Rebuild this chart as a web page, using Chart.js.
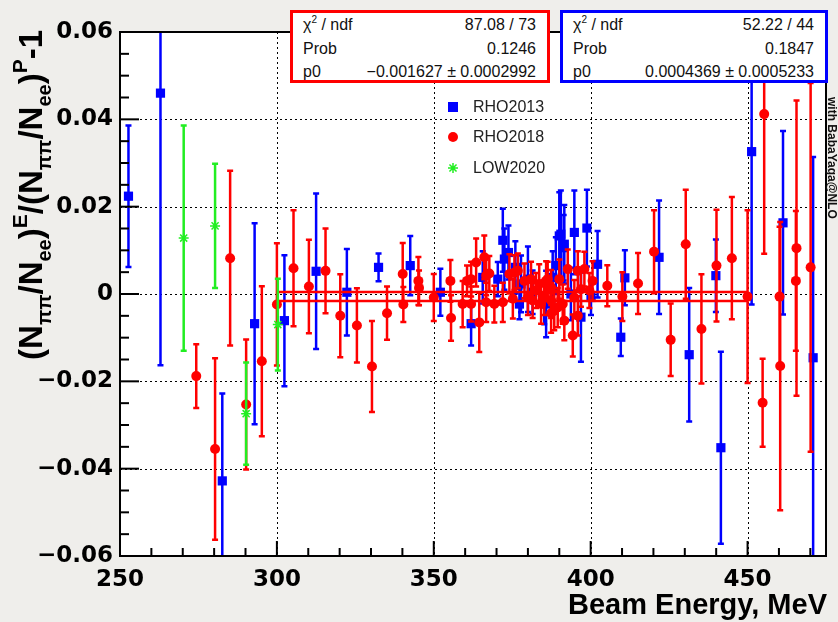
<!DOCTYPE html>
<html><head><meta charset="utf-8">
<script src="https://cdn.jsdelivr.net/npm/chart.js@4.4.1/dist/chart.umd.min.js"></script>
<style>
html,body{margin:0;padding:0;background:#efeeeb;}
#wrap{position:relative;width:838px;height:622px;overflow:hidden;background:#efeeeb;}
#c{position:absolute;left:0;top:0;}
.box{position:absolute;top:10px;height:73px;background:#fff;box-sizing:border-box;border:3px solid;font-family:"Liberation Sans",Arial,sans-serif;font-size:16px;color:#111;}
.row{position:absolute;left:10px;right:11px;height:20px;line-height:20px;white-space:nowrap;}
.row .l{position:absolute;left:0;top:0;}
.row .r{position:absolute;right:0;top:0;}
.row sup{font-size:10px;line-height:0;position:relative;top:-1px;vertical-align:super;}
.leg{position:absolute;left:473px;height:20px;line-height:20px;font-family:"Liberation Sans",Arial,sans-serif;font-size:16px;color:#222;}
#ytitle{position:absolute;left:8px;top:374px;width:344px;height:46px;line-height:46px;text-align:right;transform:rotate(-90deg);transform-origin:0 0;font-family:"Liberation Sans",Arial,sans-serif;font-weight:bold;font-size:33px;color:#000;white-space:nowrap;}
#ytitle .sb{font-size:20px;position:relative;top:9px;}
#ytitle .sp{font-size:21px;position:relative;top:-15px;}
#xtitle{position:absolute;right:11px;top:590px;height:29px;line-height:29px;font-family:"Liberation Sans",Arial,sans-serif;font-weight:bold;font-size:29px;color:#000;white-space:nowrap;}
#side{position:absolute;left:839px;top:97px;width:160px;height:14px;line-height:14px;transform:rotate(90deg);transform-origin:0 0;font-family:"Liberation Sans",Arial,sans-serif;font-weight:bold;font-size:12px;color:#111;white-space:nowrap;}
</style>
</head><body>
<div id="wrap">
<canvas id="c" width="838" height="622"></canvas>
<div id="ytitle">(N<span class="sb">ππ</span>/N<span class="sb">ee</span>)<span class="sp">E</span>/(N<span class="sb">ππ</span>/N<span class="sb">ee</span>)<span class="sp">P</span>-1</div>
<div id="xtitle">Beam Energy, MeV</div>
<div id="side">with BabaYaga@NLO</div>
<div id="box2018" class="box" style="left:290px;width:260px;border-color:#ff0000;"></div>
<div id="box2013" class="box" style="left:560px;width:268px;border-color:#0000ff;"></div>
<div id="legend"></div>
</div>
<script>
// ---------------- data ----------------
const rho2013E = [252.7, 262.9, 282.6, 292.9, 302.4, 312.5, 322.3, 332.4, 342.5, 352.1, 361.9, 365.6, 370.4, 372.0, 372.5, 373.8, 376.0, 377.3, 377.8, 380.0, 381.5, 385.2, 385.8, 387.9, 388.9, 390.0, 390.5, 391.4, 391.6, 393.7, 394.8, 396.9, 398.8, 400.1, 402.2, 409.6, 410.9, 421.8, 431.4, 439.9, 441.5, 451.3, 461.3, 470.9];
const rho2013Y = [0.0224, 0.0460, -0.0428, -0.0068, -0.0061, 0.0052, 0.0004, 0.0061, 0.0065, 0.0004, -0.0068, 0.0038, 0.0034, 0.0123, 0.0080, 0.0095, 0.0061, -0.0023, 0.0023, 0.0034, 0.0004, -0.0019, -0.0023, 0.0038, 0.0065, 0.0133, 0.0137, 0.0106, 0.0114, 0.0000, 0.0141, -0.0053, 0.0151, -0.0008, 0.0068, -0.0099, 0.0037, 0.0084, -0.0139, 0.0042, -0.0352, 0.0326, 0.0163, -0.0146];
const rho2013Err = [0.0162, 0.0623, 0.0200, 0.0230, 0.0150, 0.0178, 0.0099, 0.0032, 0.0068, 0.0054, 0.0050, 0.0060, 0.0039, 0.0072, 0.0070, 0.0062, 0.0060, 0.0035, 0.0065, 0.0075, 0.0050, 0.0050, 0.0076, 0.0060, 0.0065, 0.0100, 0.0100, 0.0075, 0.0090, 0.0060, 0.0096, 0.0102, 0.0088, 0.0040, 0.0076, 0.0043, 0.0063, 0.0130, 0.0153, 0.0083, 0.0220, 0.0350, 0.0210, 0.0460];

const rho2018E = [274.3, 280.3, 285.1, 290.2, 295.2, 300.0, 305.3, 310.2, 315.5, 320.2,
  325.5, 330.3, 335.1, 340.1, 340.3, 345.1, 345.3, 350.0, 355.3, 355.5,
  359.2, 360.6, 361.9, 361.9, 363.5, 364.5, 366.1, 366.7, 366.7, 367.7,
  369.3, 372.0, 374.1, 375.2, 375.7, 376.8, 378.9, 380.0, 381.0, 381.5,
  382.6, 383.6, 384.2, 385.2, 385.8, 386.3, 387.4, 387.4, 387.4, 388.4,
  389.5, 390.0, 391.1, 391.6, 392.7, 394.3, 394.8, 395.9, 395.9, 396.9,
  398.0, 399.6, 400.6, 405.3, 410.1, 415.1, 420.2, 425.5, 430.3, 435.3,
  440.1, 445.0, 450.0, 454.8, 455.3, 460.2, 460.4, 465.4, 465.6, 470.1];
const rho2018Y = [-0.0188, -0.0355, 0.0082, -0.0253, -0.0154, -0.0024, 0.0059, 0.0017, 0.0053, -0.0050,
  -0.0072, -0.0166, -0.0044, 0.0046, -0.0024, 0.0030, 0.0014, -0.0008, 0.0030, -0.0055,
  -0.0023, 0.0030, 0.0034, -0.0023, 0.0072, -0.0065, 0.0084, 0.0042, -0.0019, 0.0047,
  -0.0023, -0.0019, 0.0046, -0.0011, 0.0049, 0.0053, 0.0030, -0.0008, 0.0034, -0.0015,
  0.0008, 0.0023, -0.0023, -0.0008, 0.0030, 0.0034, 0.0015, -0.0015, -0.0044, -0.0038,
  -0.0031, 0.0034, -0.0023, -0.0061, 0.0057, -0.0095, -0.0008, 0.0053, -0.0050, 0.0011,
  0.0057, 0.0008, 0.0030, 0.0019, -0.0006, 0.0024, 0.0097, -0.0105, 0.0114, -0.0080,
  0.0065, 0.0082, -0.0006, -0.0249, 0.0412, -0.0006, -0.0165, 0.0030, 0.0105, 0.0061];
const rho2018Err = [0.0073, 0.0208, 0.0200, 0.0149, 0.0172, 0.0140, 0.0133, 0.0107, 0.0097, 0.0095,
  0.0085, 0.0104, 0.0061, 0.0071, 0.0040, 0.0055, 0.0040, 0.0054, 0.0048, 0.0052,
  0.0053, 0.0035, 0.0040, 0.0040, 0.0055, 0.0068, 0.0050, 0.0045, 0.0045, 0.0040,
  0.0042, 0.0045, 0.0045, 0.0045, 0.0040, 0.0040, 0.0040, 0.0040, 0.0040, 0.0040,
  0.0040, 0.0045, 0.0045, 0.0040, 0.0045, 0.0040, 0.0040, 0.0040, 0.0045, 0.0045,
  0.0045, 0.0045, 0.0045, 0.0045, 0.0045, 0.0048, 0.0040, 0.0045, 0.0045, 0.0040,
  0.0040, 0.0040, 0.0045, 0.0047, 0.0056, 0.0070, 0.0095, 0.0083, 0.0125, 0.0125,
  0.0128, 0.0140, 0.0198, 0.0101, 0.0320, 0.0160, 0.0330, 0.0160, 0.0338, 0.0422];

const low2020E = [270.3, 280.3, 290.2, 300.3];
const low2020Y = [0.0128, 0.0156, -0.0274, -0.0070];
const low2020Err = [0.0258, 0.0142, 0.0117, 0.0105];

const fitRange = [300, 450];
const fit2013P0 = 0.0004369;
const fit2018P0 = -0.001627;

const seriesNames = ['RHO2013', 'RHO2018', 'LOW2020'];
const statLabels = ['χ<sup>2</sup> / ndf', 'Prob', 'p0'];
const stat2018 = ['87.08 / 73', '0.1246', '−0.001627 ± 0.0002992'];
const stat2013 = ['52.22 / 44', '0.1847', '0.0004369 ± 0.0005233'];

const xTickValues = [250, 300, 350, 400, 450];
const yTickValues = [-0.06, -0.04, -0.02, 0, 0.02, 0.04, 0.06];

// ---------------- overlays ----------------
function fillBox(id, vals){
  const el = document.getElementById(id);
  const tops = [2, 26, 49];
  el.innerHTML = statLabels.map((l,i)=>`<div class="row" style="top:${tops[i]}px"><span class="l">${l}</span><span class="r">${vals[i]}</span></div>`).join('');
}
fillBox('box2018', stat2018);
fillBox('box2013', stat2013);
const legTops = [97, 127, 158];
document.getElementById('legend').innerHTML = seriesNames.map((n,i)=>`<div class="leg" style="top:${legTops[i]}px">${n}</div>`).join('');

// ---------------- chart ----------------
const BLUE = '#0000ff', RED = '#ff0000', GREEN = '#22ee22';
const pts = (xs, ys) => xs.map((x,i)=>({x:x, y:ys[i]}));

function drawStar(ctx, x, y, r){
  ctx.beginPath();
  ctx.moveTo(x-r,y); ctx.lineTo(x+r,y);
  ctx.moveTo(x,y-r); ctx.lineTo(x,y+r);
  const d = r*0.7071;
  ctx.moveTo(x-d,y-d); ctx.lineTo(x+d,y+d);
  ctx.moveTo(x-d,y+d); ctx.lineTo(x+d,y-d);
  ctx.stroke();
}

const errPlugin = {
  id:'errbars',
  beforeDatasetDraw(chart, args){
    const ds = chart.data.datasets[args.index];
    if (!ds.errors) return;
    const {ctx, chartArea:a} = chart, ys = chart.scales.y;
    ctx.save();
    ctx.beginPath(); ctx.rect(a.left, a.top, a.right-a.left, a.bottom-a.top); ctx.clip();
    ctx.strokeStyle = ds.borderColor; ctx.lineWidth = 2.5;
    args.meta.data.forEach((pt,i)=>{
      const v = ds.data[i].y, e = ds.errors[i];
      const x = pt.x, y1 = ys.getPixelForValue(v+e), y2 = ys.getPixelForValue(v-e);
      ctx.beginPath();
      ctx.moveTo(x,y1); ctx.lineTo(x,y2);
      ctx.moveTo(x-3,y1); ctx.lineTo(x+3,y1);
      ctx.moveTo(x-3,y2); ctx.lineTo(x+3,y2);
      ctx.stroke();
    });
    ctx.restore();
  }
};

const axesPlugin = {
  id:'rootAxes',
  beforeDraw(chart){
    const {ctx, chartArea:a} = chart;
    ctx.save(); ctx.fillStyle = '#ffffff';
    ctx.fillRect(a.left, a.top, a.right-a.left, a.bottom-a.top);
    ctx.restore();
  },
  beforeDatasetsDraw(chart){
    const {ctx, chartArea:a} = chart, xs = chart.scales.x, ys = chart.scales.y;
    ctx.save();
    ctx.strokeStyle = '#000'; ctx.lineWidth = 1; ctx.setLineDash([2,3]);
    xTickValues.forEach(v=>{
      if (v <= xs.min || v >= xs.max) return;
      const p = Math.round(xs.getPixelForValue(v)) + 0.5;
      ctx.beginPath(); ctx.moveTo(p, a.top); ctx.lineTo(p, a.bottom); ctx.stroke();
    });
    yTickValues.forEach(v=>{
      if (v <= ys.min + 1e-9 || v >= ys.max - 1e-9) return;
      const p = Math.round(ys.getPixelForValue(v)) + 0.5;
      ctx.beginPath(); ctx.moveTo(a.left, p); ctx.lineTo(a.right, p); ctx.stroke();
    });
    ctx.restore();
  },
  afterDatasetsDraw(chart){
    const {ctx, chartArea:a} = chart, xs = chart.scales.x, ys = chart.scales.y;
    ctx.save();
    ctx.strokeStyle = '#000'; ctx.lineWidth = 2; ctx.setLineDash([]);
    // x ticks
    for (let v = 250; v <= 470; v += 10){
      const p = xs.getPixelForValue(v), len = (v % 50 === 0) ? 15 : 8;
      ctx.beginPath(); ctx.moveTo(p, a.bottom); ctx.lineTo(p, a.bottom - len); ctx.stroke();
    }
    // y ticks
    for (let k = -12; k <= 12; k++){
      const v = k * 0.005, p = ys.getPixelForValue(v), len = (k % 4 === 0) ? 19 : 9;
      ctx.beginPath(); ctx.moveTo(a.left, p); ctx.lineTo(a.left + len, p); ctx.stroke();
    }
    ctx.strokeRect(a.left, a.top, a.right - a.left, a.bottom - a.top);
    // legend markers
    ctx.fillStyle = BLUE; ctx.fillRect(448, 102, 10, 10);
    ctx.fillStyle = RED; ctx.beginPath(); ctx.arc(453, 137, 5, 0, Math.PI*2); ctx.fill();
    ctx.strokeStyle = GREEN; ctx.lineWidth = 1.5; drawStar(ctx, 453, 168, 5);
    ctx.restore();
  }
};

const tickFont = {family:'DejaVu Sans', weight:'bold', size:23};

new Chart(document.getElementById('c'), {
  type:'scatter',
  data:{
    datasets:[
      {label:'LOW2020', data:pts(low2020E, low2020Y), errors:low2020Err, borderColor:GREEN, backgroundColor:GREEN,
       pointStyle:'star', pointRadius:5, pointBorderWidth:1.5, showLine:false},
      {label:'RHO2018', data:pts(rho2018E, rho2018Y), errors:rho2018Err, borderColor:RED, backgroundColor:RED,
       pointStyle:'circle', pointRadius:5, pointBorderWidth:0, showLine:false},
      {type:'line', label:'fit2018', data:[{x:fitRange[0], y:fit2018P0},{x:fitRange[1], y:fit2018P0}],
       borderColor:RED, borderWidth:2.5, pointRadius:0, fill:false},
      {type:'line', label:'fit2013', data:[{x:fitRange[0], y:fit2013P0},{x:fitRange[1], y:fit2013P0}],
       borderColor:RED, borderWidth:2.5, pointRadius:0, fill:false},
      {label:'RHO2013', data:pts(rho2013E, rho2013Y), errors:rho2013Err, borderColor:BLUE, backgroundColor:BLUE,
       pointStyle:'rect', pointRadius:6.5, pointBorderWidth:0, showLine:false}
    ]
  },
  options:{
    responsive:false, animation:false, devicePixelRatio:1,
    layout:{padding:{left:0, right:12, top:32, bottom:0}},
    plugins:{legend:{display:false}, tooltip:{enabled:false}},
    scales:{
      x:{type:'linear', min:250, max:475,
         afterFit(s){ s.height = 66; },
         grid:{display:false, drawTicks:false}, border:{display:false},
         ticks:{stepSize:50, includeBounds:false, autoSkip:false, maxRotation:0, padding:10, color:'#000', font:tickFont,
                callback:v => xTickValues.includes(v) ? String(v) : ''}},
      y:{type:'linear', min:-0.06, max:0.06,
         afterFit(s){ s.width = 120; },
         grid:{display:false, drawTicks:false}, border:{display:false},
         ticks:{stepSize:0.02, autoSkip:false, padding:7, color:'#000', font:tickFont,
                callback:v => { const r = Math.round(v*100)/100; if (Math.abs(r) < 1e-9) return '0'; return (r < 0 ? '−' : '') + Math.abs(r).toFixed(2); }}}
    }
  },
  plugins:[axesPlugin, errPlugin]
});
</script>
</body></html>
